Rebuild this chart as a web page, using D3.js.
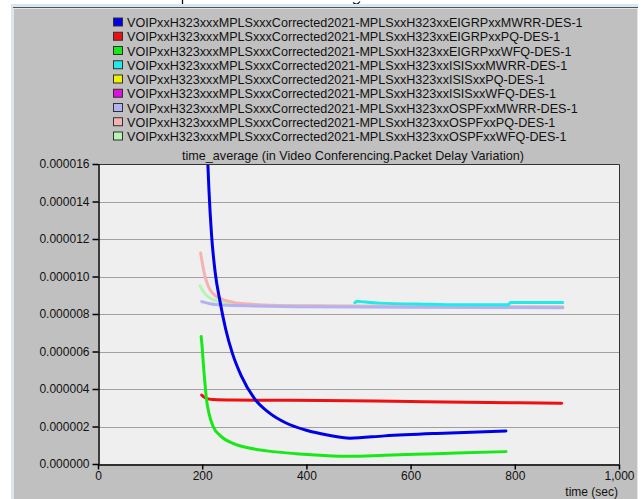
<!DOCTYPE html>
<html lang="en">
<head>
  <meta charset="UTF-8">
  <title>Packet Delay Variation</title>
  <script src="https://d3js.org/d3.v7.min.js"></script>
  <style>
    body { margin: 0; background: #fff; }
    svg { display: block; font-family: "Liberation Sans", Arial, sans-serif; }
  </style>
</head>
<body>
  <svg id="chart"></svg>
  <script>
    // series names, in legend order
    const seriesNames = [
      "VOIPxxH323xxxMPLSxxxCorrected2021-MPLSxxH323xxEIGRPxxMWRR-DES-1",
      "VOIPxxH323xxxMPLSxxxCorrected2021-MPLSxxH323xxEIGRPxxPQ-DES-1",
      "VOIPxxH323xxxMPLSxxxCorrected2021-MPLSxxH323xxEIGRPxxWFQ-DES-1",
      "VOIPxxH323xxxMPLSxxxCorrected2021-MPLSxxH323xxISISxxMWRR-DES-1",
      "VOIPxxH323xxxMPLSxxxCorrected2021-MPLSxxH323xxISISxxPQ-DES-1",
      "VOIPxxH323xxxMPLSxxxCorrected2021-MPLSxxH323xxISISxxWFQ-DES-1",
      "VOIPxxH323xxxMPLSxxxCorrected2021-MPLSxxH323xxOSPFxxMWRR-DES-1",
      "VOIPxxH323xxxMPLSxxxCorrected2021-MPLSxxH323xxOSPFxxPQ-DES-1",
      "VOIPxxH323xxxMPLSxxxCorrected2021-MPLSxxH323xxOSPFxxWFQ-DES-1"
    ];
    const seriesColors = ["#0000e6", "#ee1010", "#18e818", "#20eaea", "#f0f000", "#e010e0", "#b2b2f2", "#f4b2b2", "#b4f4b4"];

    // [time (sec), value (x 1e-6 sec)]
    const eigrpMwrr = [[205,22],[209,17.5],[213,14.6],[218,12.2],[225,10.2],[234,8.7],[245,7.2],[258,5.9],[275,4.7],[300,3.5],[330,2.7],[360,2.2],[400,1.8],[440,1.55],[484,1.38],[550,1.5],[650,1.63],[783,1.76]];
    const eigrpPq = [[199,3.68],[203,3.58],[208,3.5],[220,3.44],[260,3.41],[430,3.39],[600,3.33],[750,3.28],[890,3.24]];
    const eigrpWfq = [[198,6.8],[200,6.2],[202,5.4],[205,4.4],[208,3.5],[213,2.7],[221,2.0],[235,1.5],[259,1.1],[290,0.85],[324,0.7],[380,0.55],[426,0.47],[484,0.41],[550,0.47],[650,0.55],[783,0.66]];
    const isisMwrr = [[493,8.6],[497,8.68],[505,8.66],[540,8.58],[637,8.52],[700,8.49],[787,8.49],[792,8.62],[892,8.62]];
    const isisPq = [];
    const isisWfq = [];
    const ospfMwrr = [[199,8.66],[215,8.55],[240,8.48],[300,8.43],[388,8.39],[600,8.36],[892,8.34]];
    const ospfPq = [[197,11.25],[201,10.6],[205,10.05],[210,9.6],[216,9.25],[225,8.98],[240,8.77],[260,8.62],[290,8.53],[330,8.47],[450,8.43],[650,8.4],[892,8.38]];
    const ospfWfq = [[196,9.5],[202,9.2],[208,9.0],[218,8.8],[228,8.7],[250,8.58],[300,8.48],[400,8.43],[650,8.4],[892,8.38]];

    const seriesData = [eigrpMwrr, eigrpPq, eigrpWfq, isisMwrr, isisPq, isisWfq, ospfMwrr, ospfPq, ospfWfq];
    const drawOrder = [8, 7, 6, 5, 4, 3, 1, 2, 0];

    const xTicks = [0, 200, 400, 600, 800, 1000];
    const yTicks = [0, 2, 4, 6, 8, 10, 12, 14, 16];

    const width = 644, height = 499;
    const plot = { left: 98, right: 619, top: 164, bottom: 464 };

    const svg = d3.select("#chart").attr("width", width).attr("height", height);

    // cropped caption remnants above the panel (descenders only)
    svg.append("path").attr("d", "M182.5,0V5").attr("stroke", "#111").attr("stroke-width", 1.3);
    svg.append("path").attr("d", "M353,2.5Q357,6 360,1.5").attr("fill", "none").attr("stroke", "#111").attr("stroke-width", 1.2);

    // outer frame + gray panel
    svg.append("rect")
      .attr("x", 11).attr("y", 4).attr("width", 627).attr("height", 495)
      .attr("fill", "#dbe5f0");
    svg.append("line")
      .attr("x1", 13).attr("x2", 638).attr("y1", 7.5).attr("y2", 7.5)
      .attr("stroke", "#4a5560");
    svg.append("rect")
      .attr("x", 13.5).attr("y", 8.5).attr("width", 624).attr("height", 495)
      .attr("fill", "#c0c0c0").attr("stroke", "#e4e4e4");

    const x = d3.scaleLinear().domain([0, 1000]).range([plot.left, plot.right]);
    const y = d3.scaleLinear().domain([0, 16]).range([plot.bottom, plot.top]);

    svg.append("rect")
      .attr("x", plot.left).attr("y", plot.top)
      .attr("width", plot.right - plot.left).attr("height", plot.bottom - plot.top)
      .attr("fill", "#efefef");

    // gridlines
    svg.append("g")
      .selectAll("line")
      .data(yTicks.slice(1))
      .join("line")
      .attr("x1", plot.left).attr("x2", plot.right)
      .attr("y1", d => Math.round(y(d)) + 0.5).attr("y2", d => Math.round(y(d)) + 0.5)
      .attr("stroke", "#a0a0a0");

    // frame top and right
    svg.append("path")
      .attr("d", `M${plot.left},${plot.top + 0.5}H${plot.right + 0.5}V${plot.bottom}`)
      .attr("fill", "none").attr("stroke", "#333");

    // axes
    const yAxis = d3.axisLeft(y).tickValues(yTicks).tickSize(6).tickSizeOuter(0)
      .tickFormat(d => (d * 1e-6).toFixed(6));
    svg.append("g")
      .attr("transform", `translate(${plot.left + 0.5},0)`)
      .call(yAxis)
      .call(g => g.selectAll("text").attr("font-size", 12).attr("fill", "#111").attr("font-family", "Liberation Sans, Arial"))
      .call(g => g.selectAll("line, path").attr("stroke", "#000").attr("stroke-width", 1.5));

    const xAxis = d3.axisBottom(x).tickValues(xTicks).tickSize(5).tickSizeOuter(0)
      .tickFormat(d3.format(","));
    svg.append("g")
      .attr("transform", `translate(0,${plot.bottom + 0.5})`)
      .call(xAxis)
      .call(g => g.selectAll("text").attr("font-size", 12).attr("fill", "#111").attr("font-family", "Liberation Sans, Arial").attr("dy", "0.6em"))
      .call(g => g.selectAll("line, path").attr("stroke", "#000").attr("stroke-width", 1.5));

    svg.append("text")
      .attr("x", 618).attr("y", 496).attr("text-anchor", "end")
      .attr("font-size", 12).attr("fill", "#111")
      .text("time (sec)");

    // title
    svg.append("text")
      .attr("x", 353).attr("y", 160).attr("text-anchor", "middle")
      .attr("font-size", 12.6).attr("fill", "#111")
      .text("time_average (in Video Conferencing.Packet Delay Variation)");

    // lines
    svg.append("clipPath").attr("id", "clip")
      .append("rect")
      .attr("x", plot.left).attr("y", plot.top + 1)
      .attr("width", plot.right - plot.left).attr("height", plot.bottom - plot.top - 1);

    const line = d3.line().x(d => x(d[0])).y(d => y(d[1])).curve(d3.curveMonotoneX);
    svg.append("g").attr("clip-path", "url(#clip)")
      .selectAll("path")
      .data(drawOrder.filter(i => seriesData[i].length))
      .join("path")
      .attr("d", i => line(seriesData[i]))
      .attr("fill", "none")
      .attr("stroke", i => seriesColors[i])
      .attr("stroke-width", 3)
      .attr("stroke-linejoin", "round")
      .attr("stroke-linecap", "round");

    // legend
    const legend = svg.append("g").attr("transform", "translate(113,22.5)");
    const rows = legend.selectAll("g")
      .data(seriesNames)
      .join("g")
      .attr("transform", (d, i) => `translate(0,${i * 14.25})`);
    rows.append("rect")
      .attr("x", 0.5).attr("y", -4.5).attr("width", 9).attr("height", 8)
      .attr("fill", (d, i) => seriesColors[i])
      .attr("stroke", "#303030");
    rows.append("text")
      .attr("x", 14).attr("y", 4.5)
      .attr("font-size", 12.6).attr("fill", "#111")
      .text(d => d);
  </script>
</body>
</html>
